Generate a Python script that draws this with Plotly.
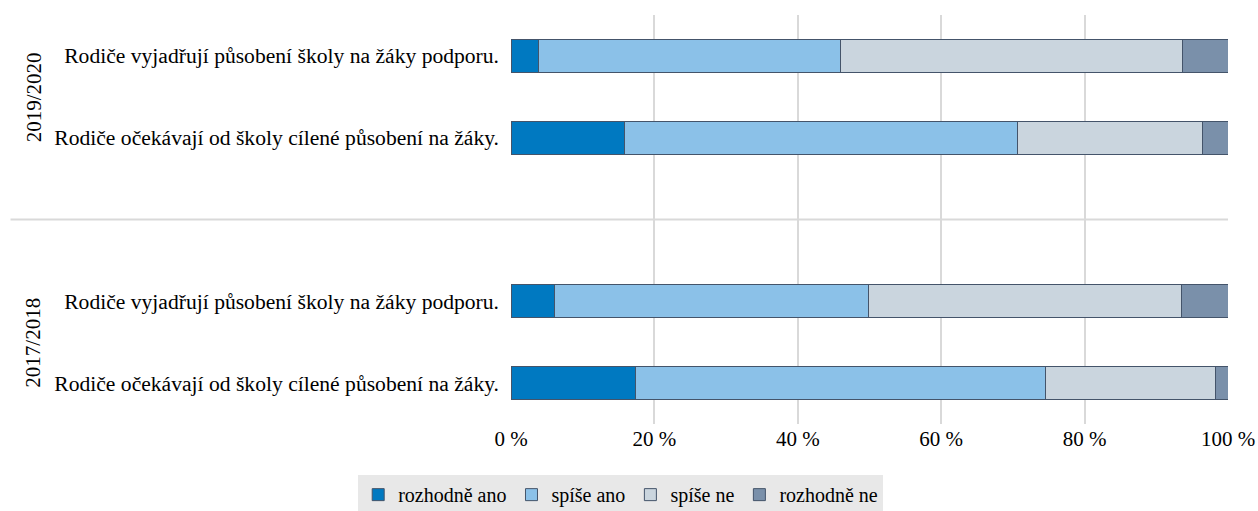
import plotly.graph_objects as go

# Category positions (bottom to top): 0,1 = 2017/2018 ; 3,4 = 2019/2020 ; 2 = empty gap
positions = [0, 1, 3, 4]
labels = [
    "Rodiče očekávají od školy cílené působení na žáky.",
    "Rodiče vyjadřují působení školy na žáky podporu.",
    "Rodiče očekávají od školy cílené působení na žáky.",
    "Rodiče vyjadřují působení školy na žáky podporu.",
]
groups = ["2017/2018", "2019/2020"]
group_centers = [0.5, 3.5]

series_names = ["rozhodně ano", "spíše ano", "spíše ne", "rozhodně ne"]
rozhodne_ano = [17.4, 6.0, 15.8, 3.9]
spise_ano = [57.1, 43.8, 54.9, 42.0]
spise_ne = [23.7, 43.7, 25.8, 47.8]
rozhodne_ne = [1.8, 6.5, 3.5, 6.3]
series_values = [rozhodne_ano, spise_ano, spise_ne, rozhodne_ne]
colors = ["#0079C1", "#8BC1E8", "#CAD5DE", "#7A90AA"]

x_ticks = [0, 20, 40, 60, 80, 100]
x_ticktext = ["0 %", "20 %", "40 %", "60 %", "80 %", "100 %"]

FONT = "Liberation Serif, Times New Roman, serif"
FS = 21

fig = go.Figure()
for name, vals, col in zip(series_names, series_values, colors):
    fig.add_trace(go.Bar(
        x=vals, y=positions, name=name, orientation="h",
        marker=dict(color=col, line=dict(color="#44546A", width=1)),
        width=0.4,
    ))

for g, c in zip(groups, group_centers):
    fig.add_annotation(
        x=-0.666, y=c, xref="paper", yref="y", text=g, textangle=-90,
        showarrow=False, font=dict(family=FONT, size=FS, color="#000000"),
        xanchor="center", yanchor="middle",
    )

fig.add_shape(
    type="line", xref="paper", yref="y", x0=-0.698, x1=1, y0=2.0, y1=2.0,
    line=dict(color="#D9D9D9", width=2), layer="below",
)

fig.update_layout(
    barmode="stack",
    width=1258, height=511,
    margin=dict(l=511, r=30, t=15, b=87, autoexpand=False),
    paper_bgcolor="white", plot_bgcolor="white",
    font=dict(family=FONT, size=FS, color="#000000"),
    xaxis=dict(
        range=[0, 100], tickvals=x_ticks, ticktext=x_ticktext,
        showgrid=True, gridcolor="#D9D9D9", gridwidth=2,
        zeroline=False, showline=False, ticks="", automargin=False,
        tickfont=dict(family=FONT, size=FS, color="#000000"),
    ),
    yaxis=dict(
        range=[-0.5, 4.5], tickvals=positions, ticktext=labels,
        showgrid=False, zeroline=False, showline=False, ticks="",
        ticklabelstandoff=11, automargin=False,
        tickfont=dict(family=FONT, size=21.6, color="#000000"),
    ),
    legend=dict(
        orientation="h", x=0.153, xanchor="center", y=-0.125, yanchor="top",
        bgcolor="#E8E8E8", itemwidth=30, traceorder="normal",
        font=dict(family=FONT, size=20, color="#000000"),
        itemclick=False, tracegroupgap=0,
    ),
    showlegend=True,
)

fig.write_html(
    "out.html",
    config={"displayModeBar": False},
    post_script="document.body.style.margin='0';document.body.style.overflow='hidden';",
)
